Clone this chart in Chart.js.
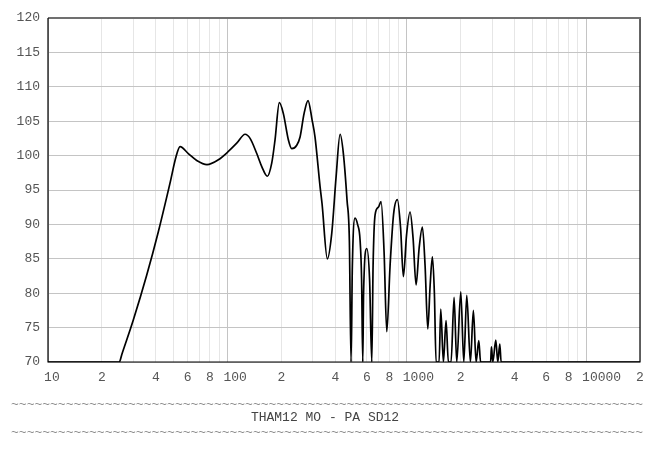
<!DOCTYPE html>
<html>
<head>
<meta charset="utf-8">
<script src="https://cdn.jsdelivr.net/npm/chart.js@4/dist/chart.umd.min.js"></script>
<style>
    body { margin: 0; background: #fff; }
    #wrap { width: 663px; height: 461px; }
</style>
</head>
<body>
<div id="wrap"><canvas id="response"></canvas></div>
<script>
    "use strict";

    // Frequency response (Hz / dB)
    var freqs = [10, 25.0, 25.8, 29.9, 35.5, 41.2, 47.9, 51.7, 54.5, 60.6,
        67.5, 77.0, 89.1, 101.3, 112.8, 125.6, 133.9, 145.9, 155.6, 167.1,
        176.8, 184.5, 195.0, 205.3, 218.9, 228.6, 243.8, 254.4, 267.8, 281.8,
        296.8, 308.3, 328.9, 337.4, 361.2, 382.1, 404.0, 425.3, 443.6, 465.1,
        479.1, 489.5, 497.8, 515.3, 532.3, 549.8, 560.6, 569.1, 575.0, 599.2,
        621.1, 639.0, 649.7, 666.6, 695.5, 719.9, 748.2, 774.5, 808.0, 845.3,
        887.4, 924.7, 958.5, 998.7, 1044.6, 1085.6, 1128.3, 1173, 1223.6, 1266.7,
        1311.5, 1350.7, 1391.1, 1427.4, 1458.7, 1516, 1549, 1602, 1658, 1708,
        1768, 1838, 1902, 2003, 2082, 2163, 2266, 2355, 2438, 2524,
        2583, 2938, 2969, 3022, 3140, 3221, 3306, 3362, 20000];
    var spl = [70, 70, 71.1, 76.1, 82.6, 88.9, 96.0, 99.8, 101.3, 100.3,
        99.3, 98.7, 99.4, 100.6, 101.8, 103.1, 102.5, 100.3, 98.4, 97.0,
        98.9, 102.3, 107.7, 106.1, 102.3, 101.0, 101.5, 102.7, 106.1, 108.0,
        105.2, 102.7, 95.5, 93.0, 85.0, 88.7, 96.9, 103.1, 100.3, 93.5,
        87.7, 70, 83.9, 90.9, 90.0, 87.7, 82, 70, 80, 86.5,
        82, 70, 84, 91.4, 92.5, 93.3, 86, 74.4, 84, 91.5,
        93.6, 89.5, 82.4, 88.5, 91.8, 88, 81.2, 86.5, 89.6, 84,
        74.8, 81, 85.3, 80, 70, 70, 77.7, 70, 76.0, 70,
        70, 79.4, 70, 80.2, 70, 79.7, 70, 77.5, 70, 73.1,
        70, 70, 72.2, 70, 73.2, 70, 72.6, 70, 70];

    // Axes
    var xTicks = [10, 20, 30, 40, 50, 60, 70, 80, 90,
        100, 200, 300, 400, 500, 600, 700, 800, 900,
        1000, 2000, 3000, 4000, 5000, 6000, 7000, 8000, 9000,
        10000, 20000];
    var xTickLabels = [' 10', '2', '', '4', '', '6', '', '8', '',
        '  100', '2', '', '4', '', '6', '', '8', '',
        '   1000', '2', '', '4', '', '6', '', '8', '',
        '    10000', '2'];
    var decades = [10, 100, 1000, 10000];
    var yMin = 70, yMax = 120, yStep = 5;

    var caption = 'THAM12 MO - PA SD12';

    var monoFont = "'Courier New', 'Liberation Mono', monospace";

    // Plot frame: black left/bottom/right, grey top
    var framePlugin = {
        id: 'frame',
        afterDatasetsDraw: function (chart) {
            var a = chart.chartArea, c = chart.ctx;
            c.save();
            c.strokeStyle = '#707070';
            c.lineWidth = 2;
            c.beginPath();
            c.moveTo(a.left, a.top);
            c.lineTo(a.right + 1, a.top);
            c.stroke();
            c.strokeStyle = '#000';
            c.lineWidth = 1.2;
            c.beginPath();
            c.moveTo(a.left, a.top);
            c.lineTo(a.left, a.bottom);
            c.lineTo(a.right, a.bottom);
            c.lineTo(a.right, a.top + 1);
            c.stroke();
            c.restore();
        }
    };

    // Caption between two tilde lines
    var captionPlugin = {
        id: 'caption',
        afterDraw: function (chart) {
            var c = chart.ctx;
            var cx = 327;
            var tildes = new Array(82).join('~');
            c.save();
            c.font = '13px ' + monoFont;
            c.textAlign = 'center';
            c.textBaseline = 'middle';
            c.fillStyle = '#8a8a8a';
            c.fillText(tildes, cx, 405);
            c.fillText(tildes, cx, 433);
            c.fillStyle = '#444';
            c.fillText(caption, cx - 2, 418);
            c.restore();
        }
    };

    var ctx = document.getElementById('response').getContext('2d');
    var chart = new Chart(ctx, {
        type: 'line',
        data: {
            datasets: [{
                data: freqs.map(function (f, i) { return {x: f, y: spl[i]}; }),
                borderColor: '#000',
                borderWidth: 1.7,
                pointRadius: 0,
                fill: false,
                cubicInterpolationMode: 'monotone'
            }]
        },
        options: {
            responsive: true,
            maintainAspectRatio: false,
            animation: false,
            events: [],
            layout: {
                padding: {left: 0, top: 18, right: 23, bottom: 71}
            },
            plugins: {
                legend: {display: false},
                tooltip: {enabled: false}
            },
            scales: {
                x: {
                    type: 'logarithmic',
                    min: 10,
                    max: 20000,
                    afterBuildTicks: function (scale) {
                        scale.ticks = xTicks.map(function (v) { return {value: v}; });
                    },
                    afterFit: function (scale) { scale.height = 28; },
                    border: {display: false},
                    grid: {
                        drawTicks: false,
                        color: function (c) {
                            return decades.indexOf(c.tick && c.tick.value) >= 0 ? '#c4c4c4' : '#e6e6e6';
                        }
                    },
                    ticks: {
                        autoSkip: false,
                        maxRotation: 0,
                        minRotation: 0,
                        padding: 8,
                        color: '#555',
                        font: {family: monoFont, size: 13},
                        callback: function (value, index) { return xTickLabels[index]; }
                    }
                },
                y: {
                    min: yMin,
                    max: yMax,
                    afterFit: function (scale) { scale.width = 48; },
                    border: {display: false},
                    grid: {drawTicks: false, color: '#c4c4c4'},
                    ticks: {
                        stepSize: yStep,
                        padding: 8,
                        color: '#555',
                        font: {family: monoFont, size: 13}
                    }
                }
            }
        },
        plugins: [framePlugin, captionPlugin]
    });
</script>
</body>
</html>
